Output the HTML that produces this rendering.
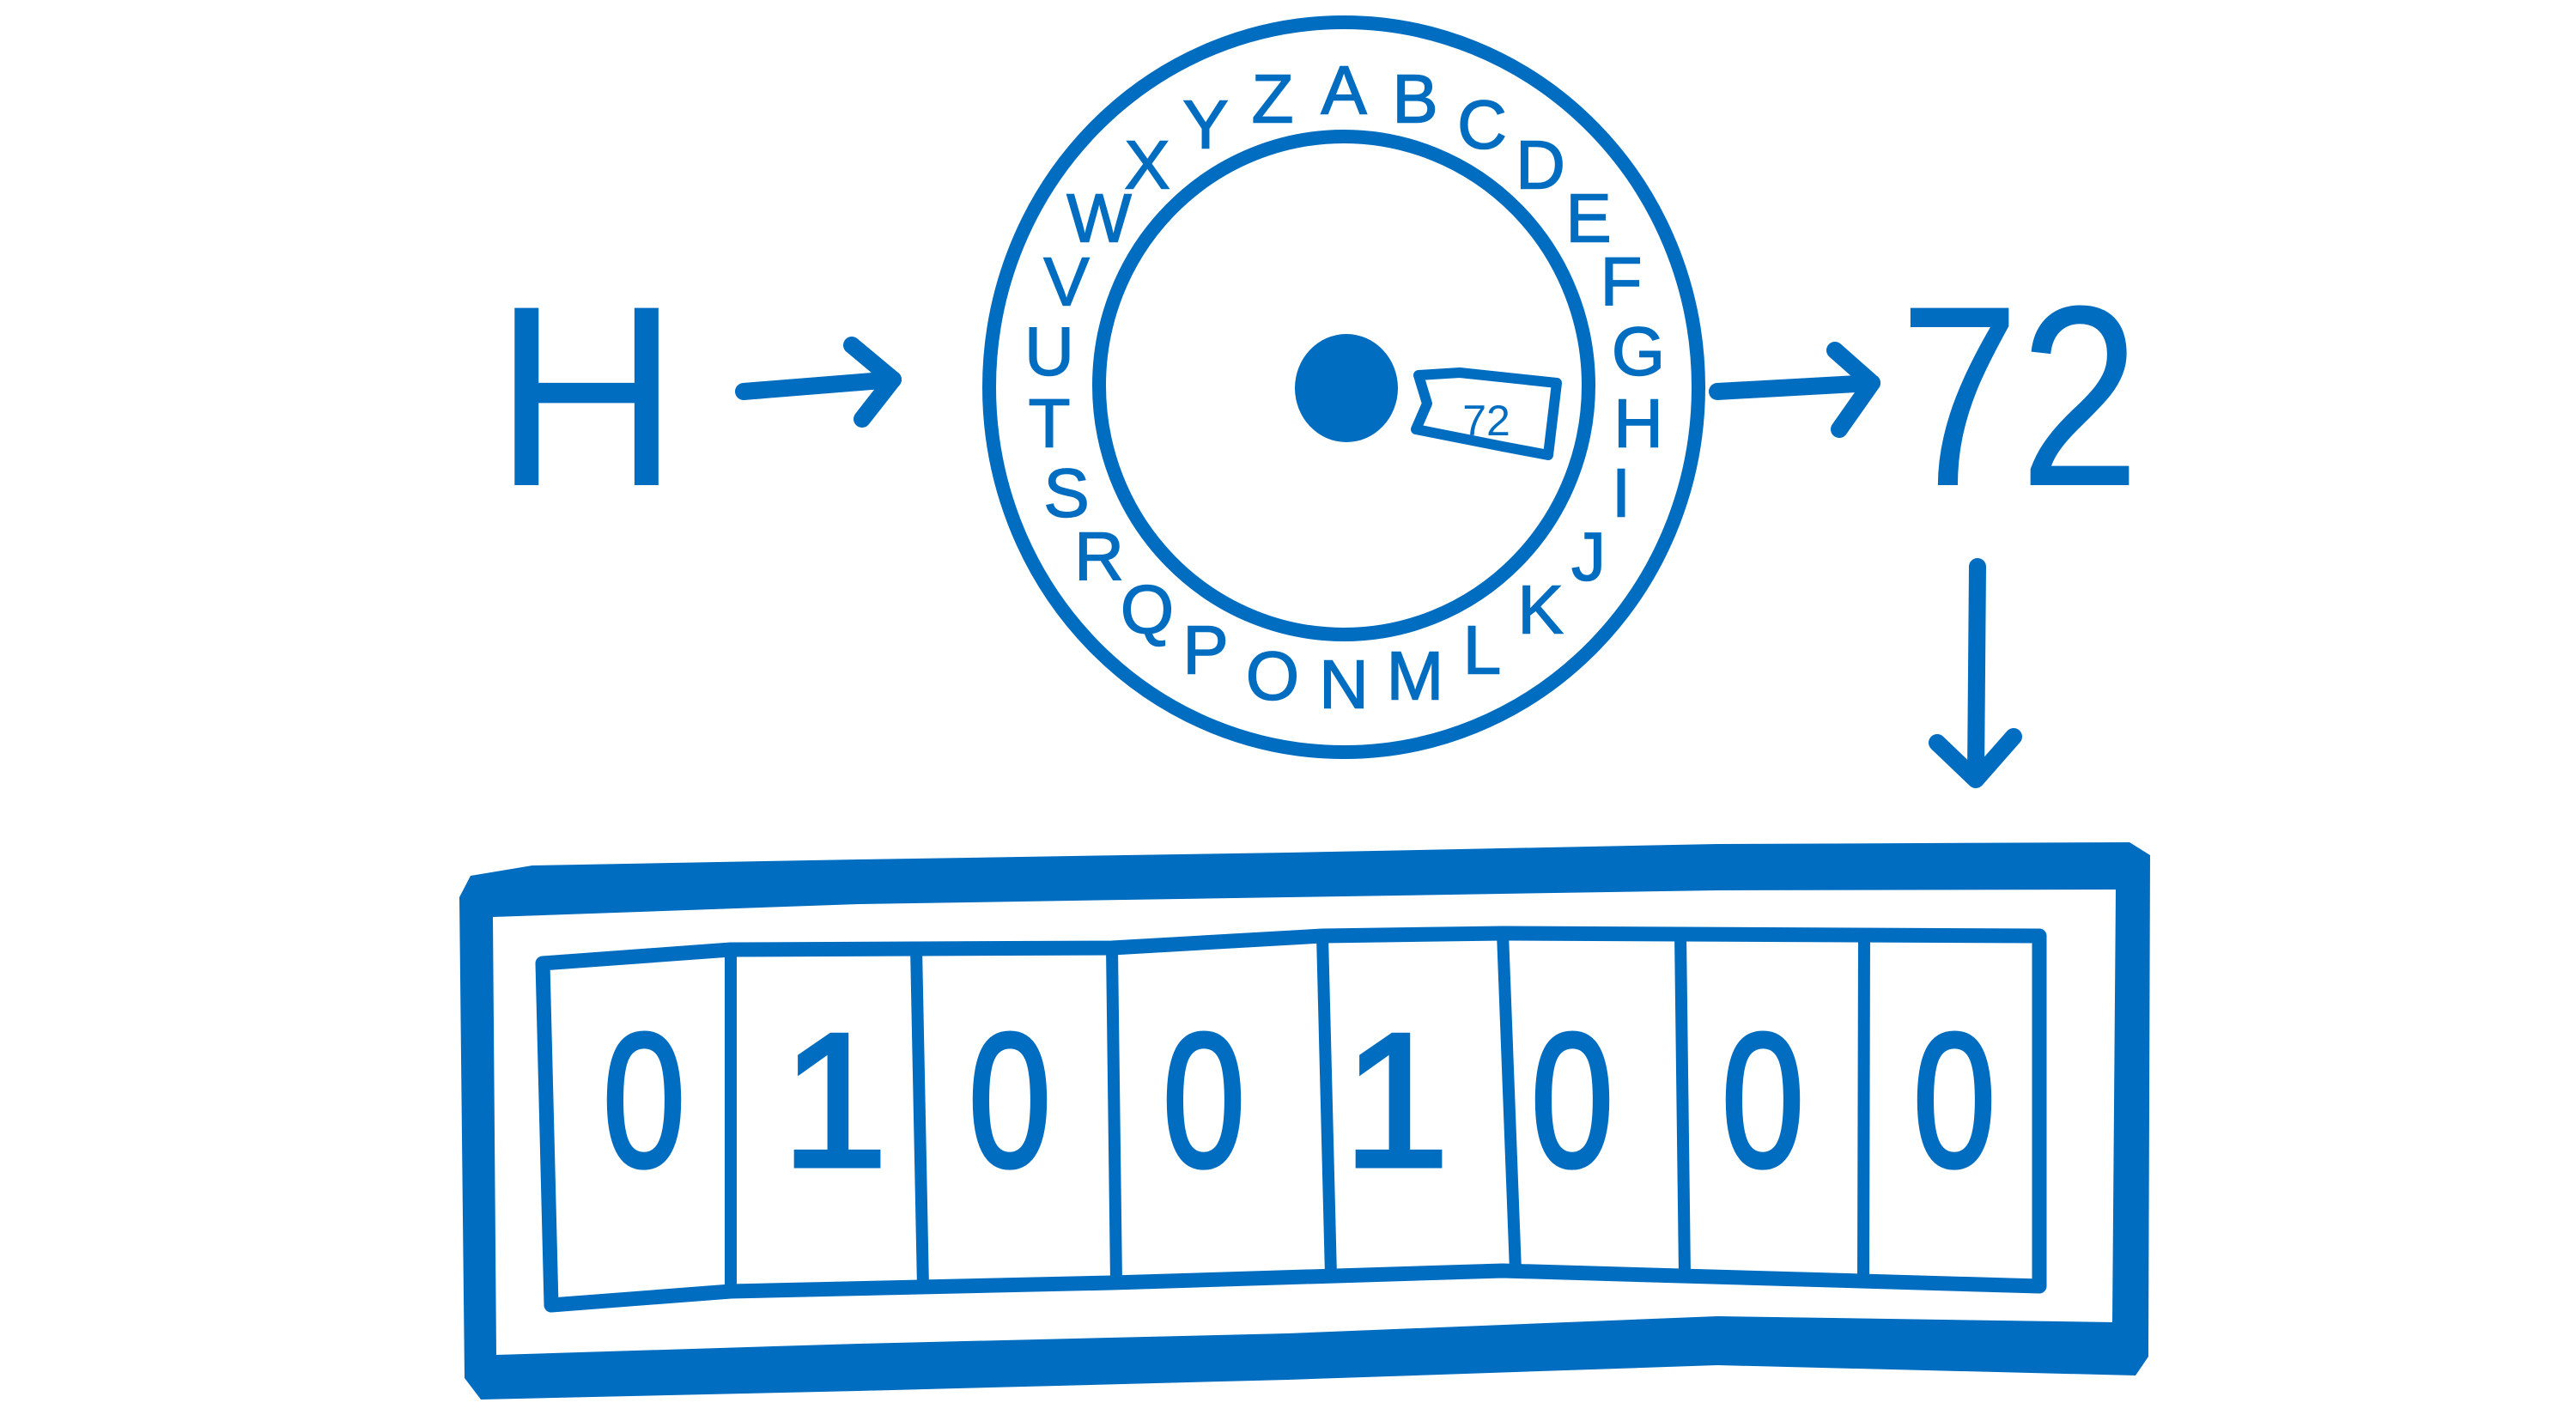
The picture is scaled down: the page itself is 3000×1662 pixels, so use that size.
<!DOCTYPE html>
<html><head><meta charset="utf-8"><style>html,body{margin:0;padding:0;background:#fff;}svg{display:block}</style></head>
<body>
<svg width="3000" height="1662" viewBox="0 0 3000 1662" xmlns="http://www.w3.org/2000/svg">
<rect width="3000" height="1662" fill="#fff"/>
<g fill="none" stroke="#006dc1" stroke-linecap="round" stroke-linejoin="round">
  <ellipse cx="1565" cy="451" rx="413" ry="425" stroke-width="16"/>
  <ellipse cx="1565" cy="449" rx="285" ry="290" stroke-width="16"/>
  <path d="M1652,437 L1700,434 L1813,446 L1803,530 L1750,520 L1649,500 L1662,470 Z" stroke-width="12"/>
  <path d="M866,456 L1040,442" stroke-width="20"/>
  <path d="M992,402 L1040,442 L1004,488" stroke-width="20"/>
  <path d="M2000,456 L2180,446" stroke-width="20"/>
  <path d="M2137,408 L2180,446 L2142,500" stroke-width="20"/>
  <path d="M2303,660 L2301,905" stroke-width="20"/>
  <path d="M2256,865 L2301,908 L2345,858" stroke-width="20"/>
  <path d="M632,1122 L851,1106 L1295,1104 L1540,1090 L1750,1087 L2375,1090 L2375,1498 L1750,1480 L1295,1494 L851,1504 L642,1520 Z" stroke-width="17"/>
  <path d="M851,1106 L851,1504 M1067,1104 L1075,1500 M1295,1104 L1300,1494 M1540,1090 L1550,1486 M1750,1087 L1765,1480 M1957,1088 L1962,1485 M2171,1090 L2170,1492" stroke-width="14"/>
</g>
<path fill="#006dc1" fill-rule="evenodd" d="M535,1045 L548,1020 L620,1008 L1000,1001 L1500,993 L2000,983 L2480,981 L2504,996 L2502,1580 L2487,1602 L2000,1590 L1500,1607 L1000,1620 L560,1630 L541,1605 Z M574,1068 L1000,1053 L1500,1045 L2000,1037 L2464,1036 L2460,1540 L2000,1533 L1500,1553 L1000,1565 L578,1578 Z"/>
<g fill="#006dc1" font-family="Liberation Sans, sans-serif">
  <text x="683" y="565" font-size="300" text-anchor="middle">H</text>
  <text x="2352" y="565" font-size="300" text-anchor="middle" textLength="280" lengthAdjust="spacingAndGlyphs">72</text>
  <text x="1731" y="507" font-size="50" text-anchor="middle">72</text>
  <g font-size="222" text-anchor="middle" stroke="#006dc1" stroke-width="5">
    <text x="750" y="1358" textLength="96" lengthAdjust="spacingAndGlyphs">0</text>
    <text x="972" y="1358">1</text>
    <text x="1176" y="1358" textLength="96" lengthAdjust="spacingAndGlyphs">0</text>
    <text x="1402" y="1358" textLength="96" lengthAdjust="spacingAndGlyphs">0</text>
    <text x="1626" y="1358">1</text>
    <text x="1831" y="1358" textLength="96" lengthAdjust="spacingAndGlyphs">0</text>
    <text x="2053" y="1358" textLength="96" lengthAdjust="spacingAndGlyphs">0</text>
    <text x="2276" y="1358" textLength="96" lengthAdjust="spacingAndGlyphs">0</text>
  </g>
  <g font-size="80" text-anchor="middle" dominant-baseline="central" stroke="#006dc1" stroke-width="1.5">
    <text x="1565" y="105">A</text>
    <text x="1648" y="115">B</text>
    <text x="1726" y="145">C</text>
    <text x="1794" y="192">D</text>
    <text x="1850" y="254">E</text>
    <text x="1888" y="328">F</text>
    <text x="1908" y="409">G</text>
    <text x="1908" y="493">H</text>
    <text x="1888" y="574">I</text>
    <text x="1850" y="648">J</text>
    <text x="1794" y="710">K</text>
    <text x="1726" y="757">L</text>
    <text x="1648" y="787">M</text>
    <text x="1565" y="797">N</text>
    <text x="1482" y="787">O</text>
    <text x="1404" y="757">P</text>
    <text x="1336" y="710">Q</text>
    <text x="1280" y="648">R</text>
    <text x="1242" y="574">S</text>
    <text x="1222" y="493">T</text>
    <text x="1222" y="409">U</text>
    <text x="1242" y="328">V</text>
    <text x="1280" y="254">W</text>
    <text x="1336" y="192">X</text>
    <text x="1404" y="145">Y</text>
    <text x="1482" y="115">Z</text>
  </g>
</g>
<ellipse cx="1568" cy="452" rx="60" ry="63" fill="#006dc1"/>
</svg>
</body></html>
